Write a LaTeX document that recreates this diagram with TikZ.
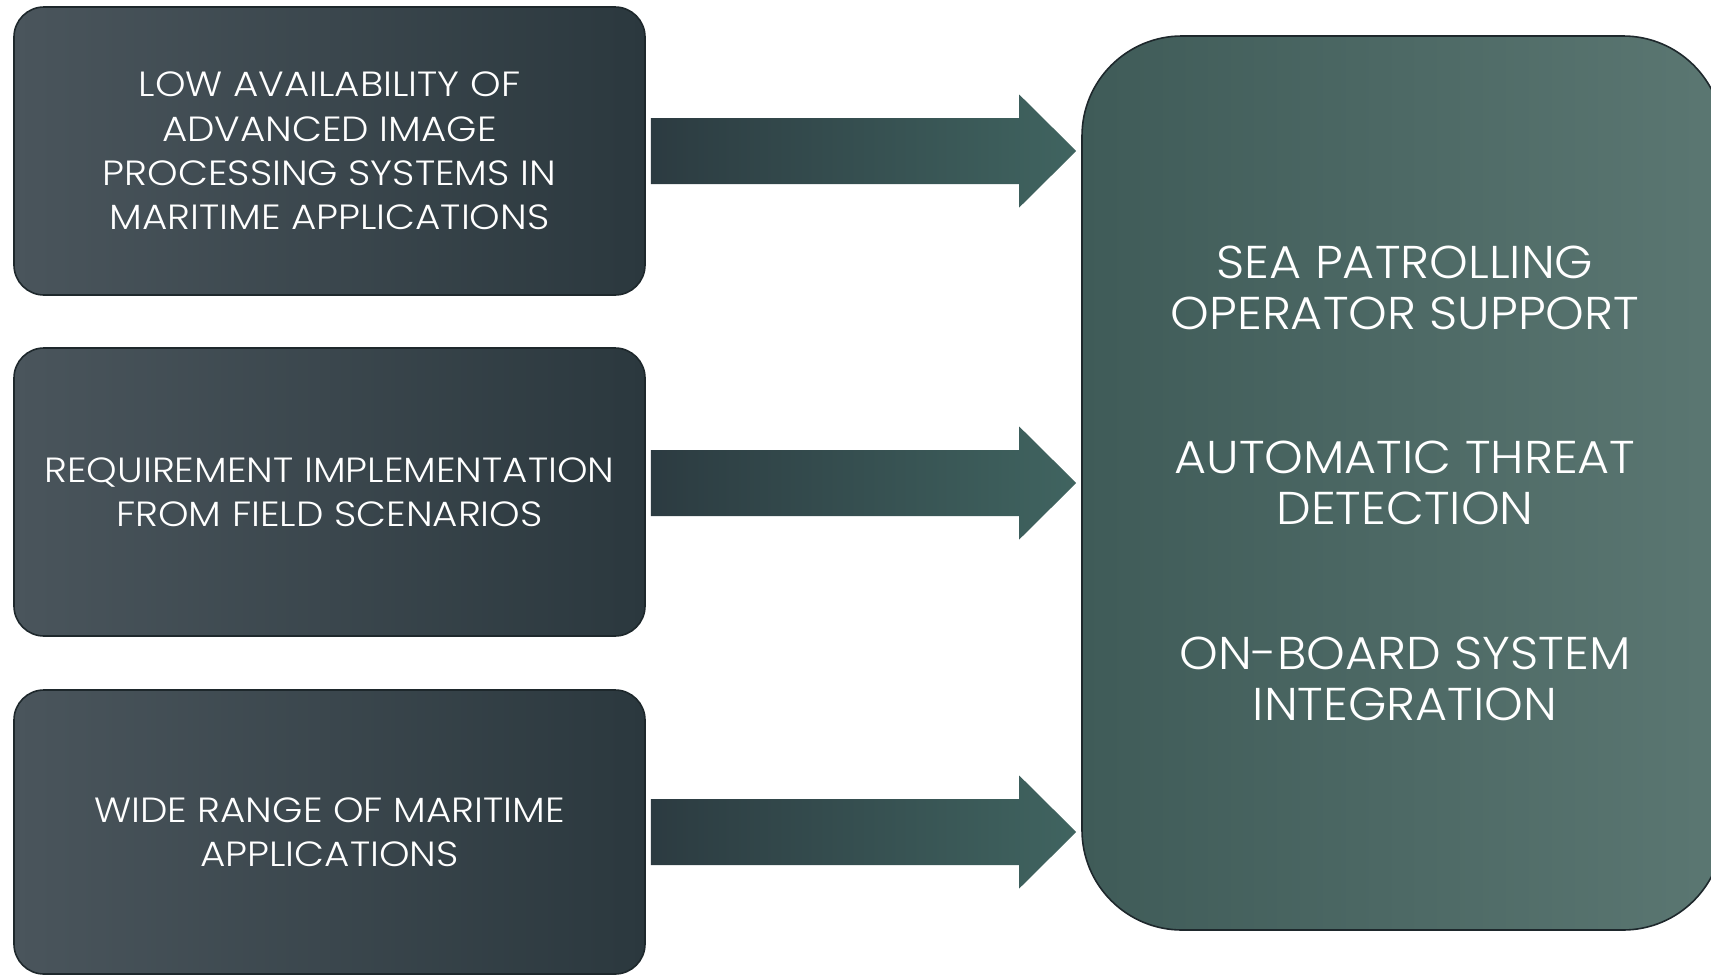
\documentclass[tikz,border=0pt]{standalone}
\usepackage{fontspec}
\setmainfont{Poppins Light}
\newfontfamily\causefont{Poppins Light}[FakeStretch=1.11]
\newfontfamily\goalfont{Poppins Light}[FakeStretch=1.07]
\usetikzlibrary{calc}

\definecolor{boxL}{HTML}{4A555C}
\definecolor{boxR}{HTML}{2B383E}
\definecolor{arrL}{HTML}{2C3B41}
\definecolor{arrR}{HTML}{406460}
\definecolor{goalL}{HTML}{3F5B58}
\definecolor{goalR}{HTML}{5B7772}
\definecolor{edge}{HTML}{1E282C}

\tikzset{
  causebox/.style={draw=edge, line width=1.6pt, rounded corners=30pt,
    left color=boxL, right color=boxR, minimum width=631pt,
    text=white, align=center, font=\causefont\fontsize{35}{44.4}\selectfont, inner sep=0pt},
  goalbox/.style={draw=edge, line width=1.6pt, rounded corners=100pt,
    left color=goalL, right color=goalR, minimum width=641pt, minimum height=894pt,
    inner sep=0pt},
  goaltext/.style={text=white, align=center, font=\goalfont\fontsize{46}{51}\selectfont, inner sep=0pt},
  blockarrow/.style={left color=arrL, right color=arrR, draw=none},
}

\begin{document}
\begin{tikzpicture}[x=1pt, y=-1pt]
  \useasboundingbox (0,0) rectangle (1711,975);

  % three input boxes on the left
  \node[causebox, minimum height=288pt] (b1) at (329.5,151)
    {LOW AVAILABILITY OF\\ADVANCED IMAGE\\PROCESSING SYSTEMS IN\\MARITIME APPLICATIONS};
  \node[causebox, minimum height=288pt] (b2) at (329.5,492)
    {REQUIREMENT IMPLEMENTATION\\FROM FIELD SCENARIOS};
  \node[causebox, minimum height=284pt] (b3) at (329.5,832)
    {WIDE RANGE OF MARITIME\\APPLICATIONS};

  % outcome box on the right (runs past the page edge)
  \node[goalbox] (goal) at (1402.5,483) {};
  \node[goaltext] (g1) at (1405,287.5) {SEA PATROLLING\\OPERATOR SUPPORT};
  \node[goaltext] (g2) at (1405,482.5) {AUTOMATIC THREAT\\DETECTION};
  \node[goaltext] (g3) at (1405,678.5) {ON-BOARD SYSTEM\\INTEGRATION};

  % block arrows from each input box to the outcome box
  \foreach \src/\lvl in {b1/b1, b2/goal, b3/b3}{
    \coordinate (s) at ($(\src.east)+(5,0)$);
    \coordinate (t) at ($(goal.west |- \lvl.center)+(-5,0)$);
    \coordinate (s) at (s |- t);
    \shade[blockarrow]
      ($(s)+(0,-33)$) -- ($(t)+(-57,-33)$) -- ($(t)+(-57,-56.5)$) -- (t)
      -- ($(t)+(-57,56.5)$) -- ($(t)+(-57,33)$) -- ($(s)+(0,33)$) -- cycle;
  }
\end{tikzpicture}
\end{document}
